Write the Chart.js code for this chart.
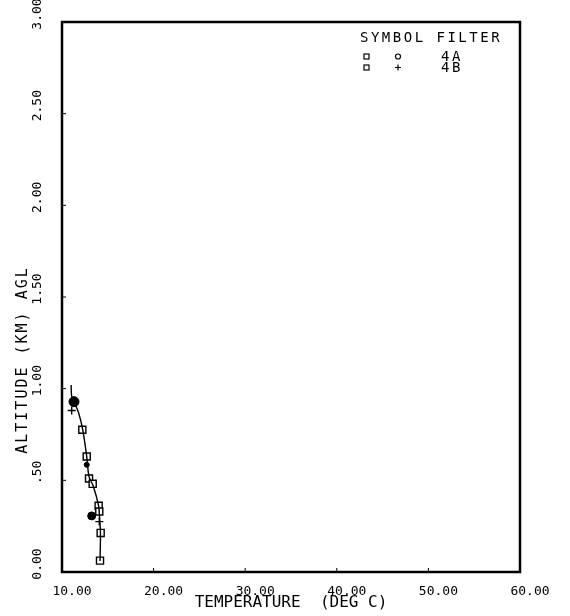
<!DOCTYPE html>
<html><head><meta charset="utf-8">
<script src="https://cdn.jsdelivr.net/npm/chart.js@4/dist/chart.umd.min.js"></script>
<style>html,body{margin:0;padding:0;background:#fff}</style>
</head><body>
<canvas id="c" width="570" height="616"></canvas>
<script>
const xTickValues = [10, 20, 30, 40, 50, 60];
const xTickLabels = ["10.00", "20.00", "30.00", "40.00", "50.00", "60.00"];
const yTickValues = [0, 0.5, 1, 1.5, 2, 2.5, 3];
const yTickLabels = ["0.00", ".50", "1.00", "1.50", "2.00", "2.50", "3.00"];
const xTitle = "TEMPERATURE  (DEG C)";
const yTitle = "ALTITUDE (KM) AGL";
const legendTitle = "SYMBOL FILTER";
const filterNames = ["4A", "4B"];

// profile line (temperature degC, altitude km)
const profileTemp = [14.15, 14.2, 14.1, 14.0, 13.4, 12.95, 12.7, 12.25, 11.8, 11.3, 11.05, 11.0];
const profileAlt  = [0.06, 0.21, 0.30, 0.36, 0.47, 0.52, 0.63, 0.78, 0.87, 0.93, 0.96, 1.02];
// symbols
const squareTemp = [12.22, 12.70, 12.95, 13.35, 14.0, 14.07, 14.22, 14.15];
const squareAlt  = [0.776, 0.630, 0.510, 0.481, 0.361, 0.330, 0.213, 0.062];
const circleTemp = [11.31, 12.70, 13.24];
const circleAlt  = [0.929, 0.585, 0.306];
const circleSize = [5, 2.5, 4];
const plusTemp = [11.06, 14.07];
const plusAlt  = [0.881, 0.275];

const pts = (xs, ys) => xs.map((x, i) => ({x: x, y: ys[i]}));
const MONO = "'DejaVu Sans Mono', 'Liberation Mono', monospace";

const framePlugin = {
  id: 'frame',
  afterDatasetsDraw(chart) {
    const {ctx, chartArea: a, scales} = chart;
    ctx.save();
    ctx.strokeStyle = '#000';
    ctx.lineWidth = 2.5;
    ctx.strokeRect(a.left, a.top, a.right - a.left, a.bottom - a.top);
    ctx.lineWidth = 1;
    xTickValues.forEach(v => {
      const px = scales.x.getPixelForValue(v);
      ctx.beginPath(); ctx.moveTo(px, a.bottom); ctx.lineTo(px, a.bottom - 4); ctx.stroke();
    });
    yTickValues.forEach(v => {
      const py = scales.y.getPixelForValue(v);
      ctx.beginPath(); ctx.moveTo(a.left, py); ctx.lineTo(a.left + 4, py); ctx.stroke();
    });
    // y tick labels (rotated, reading bottom to top)
    ctx.fillStyle = '#000';
    ctx.font = "13px " + MONO;
    ctx.textAlign = 'center';
    ctx.textBaseline = 'middle';
    yTickValues.forEach((v, i) => {
      const py = scales.y.getPixelForValue(v) - 8;
      ctx.save();
      ctx.translate(38, py);
      ctx.rotate(-Math.PI / 2);
      ctx.fillText(yTickLabels[i], 0, 0);
      ctx.restore();
    });
    // y title
    ctx.save();
    ctx.font = "15px " + MONO;
    ctx.letterSpacing = '2px';
    ctx.translate(23, 360);
    ctx.rotate(-Math.PI / 2);
    ctx.fillText(yTitle, 0, 0);
    ctx.restore();
    // legend block
    ctx.save();
    ctx.font = "14px " + MONO;
    ctx.letterSpacing = '2.5px';
    ctx.textAlign = 'left';
    ctx.fillText(legendTitle, 360, 38);
    ctx.fillText(filterNames[0], 441, 57);
    ctx.fillText(filterNames[1], 441, 68);
    ctx.restore();
    ctx.lineWidth = 1.2;
    ctx.strokeRect(364, 54, 5, 5);
    ctx.strokeRect(364, 65, 5, 5);
    ctx.beginPath(); ctx.arc(398, 56.5, 2.5, 0, Math.PI * 2); ctx.stroke();
    ctx.beginPath();
    ctx.moveTo(395, 67.5); ctx.lineTo(401, 67.5);
    ctx.moveTo(398, 64.5); ctx.lineTo(398, 70.5);
    ctx.stroke();
    ctx.restore();
  }
};

new Chart(document.getElementById('c'), {
  type: 'scatter',
  data: {
    datasets: [
      { label: 'profile', type: 'line', data: pts(profileTemp, profileAlt), showLine: true,
        borderColor: '#000', borderWidth: 1.4, pointRadius: 0, tension: 0.3, fill: false },
      { label: 'square', data: pts(squareTemp, squareAlt), pointStyle: 'rect', pointRadius: 5,
        backgroundColor: '#fff', borderColor: '#000', borderWidth: 1.4 },
      { label: 'circle', data: pts(circleTemp, circleAlt), pointStyle: 'circle', pointRadius: circleSize,
        backgroundColor: '#000', borderColor: '#000', borderWidth: 1 },
      { label: 'plus', data: pts(plusTemp, plusAlt), pointStyle: 'cross', pointRadius: 4,
        borderColor: '#000', borderWidth: 1.4 }
    ]
  },
  options: {
    responsive: false,
    animation: false,
    layout: { padding: { top: 22, right: 50, left: 0, bottom: 0 } },
    plugins: { legend: { display: false }, tooltip: { enabled: false } },
    scales: {
      x: {
        type: 'linear', min: 10, max: 60,
        afterBuildTicks: s => { s.ticks = xTickValues.map(v => ({value: v})); },
        afterFit: s => { s.height = 44; },
        grid: { display: false },
        border: { display: false },
        ticks: { color: '#000', font: { family: MONO, size: 13 }, padding: 4, labelOffset: 10,
                 maxRotation: 0, autoSkip: false,
                 callback: (v) => xTickLabels[xTickValues.indexOf(v)] },
        title: { display: true, text: xTitle, color: '#000', font: { family: MONO, size: 16 },
                 padding: { top: 4, bottom: 4 } }
      },
      y: {
        type: 'linear', min: 0, max: 3,
        afterBuildTicks: s => { s.ticks = yTickValues.map(v => ({value: v})); },
        afterFit: s => { s.width = 62; },
        grid: { display: false },
        border: { display: false },
        ticks: { display: false }
      }
    }
  },
  plugins: [framePlugin]
});
</script>
</body></html>
